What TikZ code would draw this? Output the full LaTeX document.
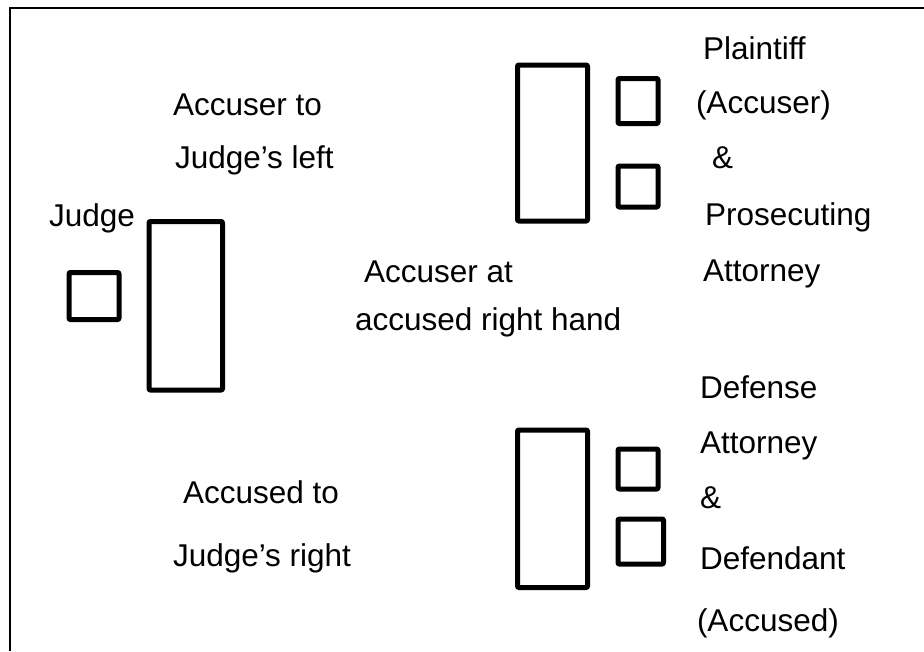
\documentclass[tikz,border=0pt]{standalone}
\usepackage{fontspec}
\setmainfont{Liberation Sans}
\begin{document}
\begin{tikzpicture}[x=1pt,y=-1pt,
  lbl/.style={anchor=base west,inner sep=0pt,outer sep=0pt,font=\fontsize{31.5}{38}\selectfont},
  seat/.style={draw,line width=5pt,line join=round,rounded corners=1pt,inner sep=0pt,outer sep=0pt},
  frame/.style={line width=2pt}]
\useasboundingbox (0,0) rectangle (924,651);
% frame (top and left only)
\coordinate (fbl) at (10,651);
\coordinate (ftl) at (10,7.5);
\coordinate (ftr) at (924,7.5);
\draw[frame] (fbl) -- (ftl) -- (ftr);
% boxes
\node[seat,minimum width=50pt,minimum height=47pt] (judgeseat) at (94,296) {};
\node[seat,minimum width=73.5pt,minimum height=168.5pt] (bench) at (185.75,305.75) {};
\node[seat,minimum width=70pt,minimum height=156pt] (ptable) at (552.5,143) {};
\node[seat,minimum width=40pt,minimum height=45pt] (pseat1) at (638,101) {};
\node[seat,minimum width=40pt,minimum height=41pt] (pseat2) at (638,186.5) {};
\node[seat,minimum width=70pt,minimum height=157.5pt] (dtable) at (552.5,508.75) {};
\node[seat,minimum width=40pt,minimum height=40pt] (dseat1) at (638,469) {};
\node[seat,minimum width=45.5pt,minimum height=45pt] (dseat2) at (640.75,541.5) {};
% labels
\node[lbl] (judge) at (49,226) {Judge};
\node[lbl] (acl1) at (173,115) {Accuser to};
\node[lbl] (acl2) at (175,168.5) {Judge’s left};
\node[lbl] (aat1) at (364,282) {Accuser at};
\node[lbl] (aat2) at (355,330.5) {accused right hand};
\node[lbl] (acr1) at (183,503) {Accused to};
\node[lbl] (acr2) at (173,566.5) {Judge’s right};
\node[lbl] (p1) at (703,59.5) {Plaintiff};
\node[lbl] (p2) at (696,113) {(Accuser)};
\node[lbl] (p3) at (712,168) {\&};
\node[lbl] (p4) at (705,225) {Prosecuting};
\node[lbl] (p5) at (703,281.5) {Attorney};
\node[lbl] (d1) at (700,398) {Defense};
\node[lbl] (d2) at (700,453) {Attorney};
\node[lbl] (d3) at (700,508) {\&};
\node[lbl] (d4) at (700,569) {Defendant};
\node[lbl] (d5) at (697,631) {(Accused)};
\end{tikzpicture}
\end{document}
